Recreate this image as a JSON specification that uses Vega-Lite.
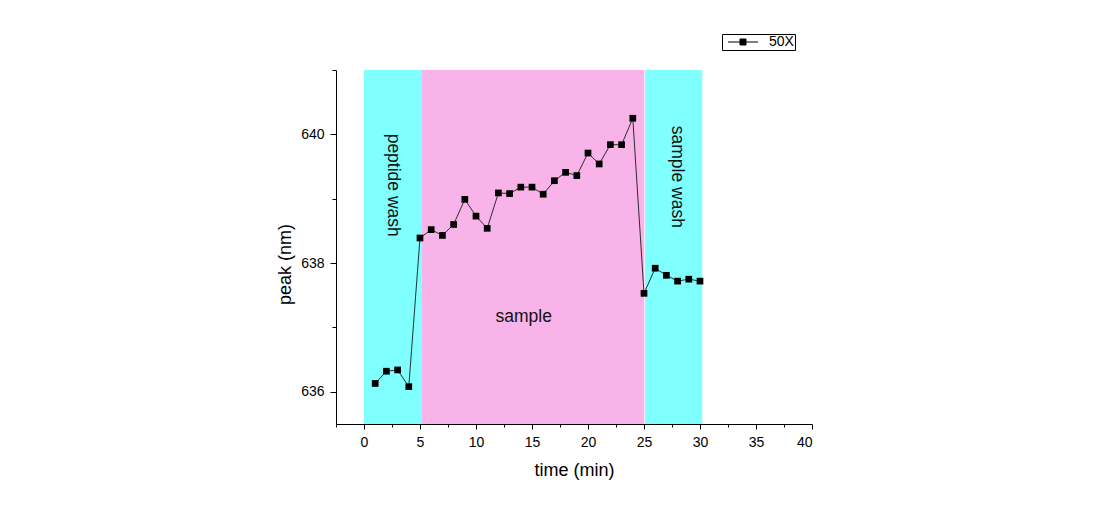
{
  "$schema": "https://vega.github.io/schema/vega-lite/v6.json",
  "width": 476,
  "height": 354,
  "autosize": {"type": "none"},
  "padding": {"left": 336, "top": 70, "right": 296, "bottom": 86},
  "background": "white",
  "config": {
    "font": "Liberation Sans",
    "view": {"stroke": null},
    "axis": {
      "grid": false,
      "domainColor": "black",
      "domainWidth": 1,
      "tickColor": "black",
      "tickWidth": 1,
      "labelColor": "black",
      "titleColor": "black",
      "labelFont": "Liberation Sans",
      "titleFont": "Liberation Sans",
      "labelFontSize": 14,
      "titleFontSize": 18,
      "titleFontWeight": "normal"
    }
  },
  "datasets": {
    "series": [
      {"series": "50X", "t": 1, "v": 636.13},
      {"series": "50X", "t": 2, "v": 636.32},
      {"series": "50X", "t": 3, "v": 636.34},
      {"series": "50X", "t": 4, "v": 636.08},
      {"series": "50X", "t": 5, "v": 638.39},
      {"series": "50X", "t": 6, "v": 638.52},
      {"series": "50X", "t": 7, "v": 638.43},
      {"series": "50X", "t": 8, "v": 638.6},
      {"series": "50X", "t": 9, "v": 638.99},
      {"series": "50X", "t": 10, "v": 638.73},
      {"series": "50X", "t": 11, "v": 638.54},
      {"series": "50X", "t": 12, "v": 639.09},
      {"series": "50X", "t": 13, "v": 639.08},
      {"series": "50X", "t": 14, "v": 639.18},
      {"series": "50X", "t": 15, "v": 639.18},
      {"series": "50X", "t": 16, "v": 639.07},
      {"series": "50X", "t": 17, "v": 639.28},
      {"series": "50X", "t": 18, "v": 639.41},
      {"series": "50X", "t": 19, "v": 639.36},
      {"series": "50X", "t": 20, "v": 639.71},
      {"series": "50X", "t": 21, "v": 639.54},
      {"series": "50X", "t": 22, "v": 639.84},
      {"series": "50X", "t": 23, "v": 639.84},
      {"series": "50X", "t": 24, "v": 640.25},
      {"series": "50X", "t": 25, "v": 637.53},
      {"series": "50X", "t": 26, "v": 637.92},
      {"series": "50X", "t": 27, "v": 637.81},
      {"series": "50X", "t": 28, "v": 637.72},
      {"series": "50X", "t": 29, "v": 637.75},
      {"series": "50X", "t": 30, "v": 637.72}
    ],
    "phases": [
      {"phase": "wash", "t": 0, "t_end": 5.12, "v": 635.5, "v_top": 641},
      {"phase": "sample", "t": 5.12, "t_end": 25.03, "v": 635.5, "v_top": 641},
      {"phase": "wash", "t": 25.1, "t_end": 30.2, "v": 635.5, "v_top": 641}
    ],
    "notes": [
      {"label": "peptide wash", "t": 2.62, "v": 639.21},
      {"label": "sample wash", "t": 27.98, "v": 639.34},
      {"label": "sample", "t": 14.26, "v": 637.09}
    ]
  },
  "encoding": {
    "x": {
      "field": "t",
      "type": "quantitative",
      "scale": {"domain": [-2.5, 40], "nice": false, "zero": false},
      "axis": {
        "title": "time (min)",
        "values": [-2.5, 0, 2.5, 5, 7.5, 10, 12.5, 15, 17.5, 20, 22.5, 25, 27.5, 30, 32.5, 35, 37.5, 40],
        "labelExpr": "datum.value % 5 === 0 ? datum.label : ''",
        "tickSize": {"condition": {"test": "datum.value % 5 === 0", "value": 5}, "value": 3},
        "labelPadding": 6,
        "titlePadding": 12,
        "labelOverlap": false
      }
    },
    "y": {
      "field": "v",
      "type": "quantitative",
      "scale": {"domain": [635.5, 641], "nice": false, "zero": false},
      "axis": {
        "title": "peak (nm)",
        "values": [636, 637, 638, 639, 640, 641],
        "labelExpr": "datum.value % 2 === 0 ? datum.label : ''",
        "tickSize": {"condition": {"test": "datum.value % 2 === 0", "value": 6}, "value": 4},
        "labelPadding": 6,
        "titlePadding": 6,
        "titleY": 194,
        "labelOverlap": false
      }
    }
  },
  "layer": [
    {
      "data": {"name": "phases"},
      "mark": {"type": "rect", "strokeWidth": 0},
      "encoding": {
        "x2": {"field": "t_end"},
        "y2": {"field": "v_top"},
        "fill": {
          "field": "phase",
          "type": "nominal",
          "scale": {"domain": ["wash", "sample"], "range": ["#80FFFF", "#F8B4E8"]},
          "legend": null
        }
      }
    },
    {
      "data": {"name": "notes"},
      "transform": [{"filter": "datum.label !== 'sample'"}],
      "mark": {"type": "text", "angle": 90, "fontSize": 17.5, "color": "#111", "align": "center", "baseline": "middle"},
      "encoding": {"text": {"field": "label"}}
    },
    {
      "data": {"name": "notes"},
      "transform": [{"filter": "datum.label === 'sample'"}],
      "mark": {"type": "text", "fontSize": 17.5, "color": "#111", "align": "center", "baseline": "alphabetic"},
      "encoding": {"text": {"field": "label"}}
    },
    {
      "data": {"name": "series"},
      "mark": {"type": "line", "color": "#1a1a1a", "strokeWidth": 0.9},
      "encoding": {}
    },
    {
      "data": {"name": "series"},
      "mark": {"type": "point", "shape": "square", "filled": true, "size": 45, "opacity": 1},
      "encoding": {
        "color": {
          "field": "series",
          "type": "nominal",
          "scale": {"range": ["black"]},
          "legend": {
            "title": null,
            "orient": "none",
            "legendX": 386,
            "legendY": -36,
            "symbolType": "M-3,0H3M-0.6,-0.6H0.6V0.6H-0.6Z",
            "symbolSize": 100,
            "symbolOffset": 13,
            "symbolStrokeColor": "black",
            "symbolFillColor": "black",
            "symbolStrokeWidth": 1,
            "labelFontSize": 14,
            "labelColor": "black",
            "labelOffset": 19,
            "padding": 1,
            "strokeColor": "black",
            "fillColor": "white"
          }
        }
      }
    }
  ]
}
